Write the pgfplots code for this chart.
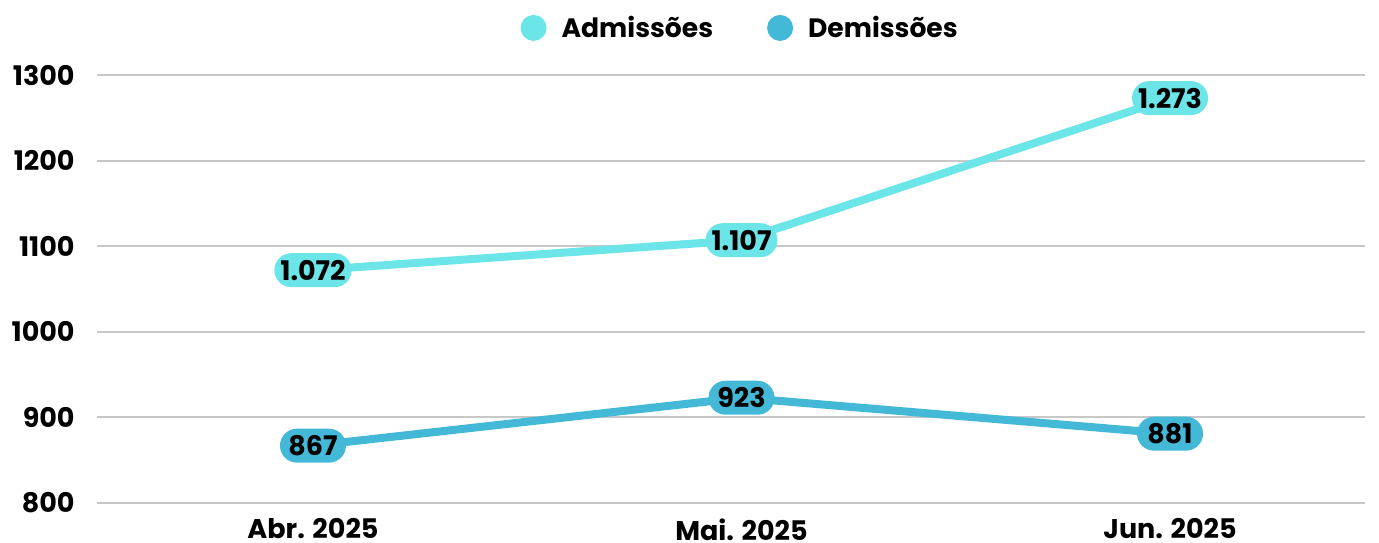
\documentclass[border=0pt]{standalone}
\usepackage{fontspec}
\setmainfont{Poppins}
\usepackage{pgfplots}
\pgfplotsset{compat=1.18}
\definecolor{adm}{HTML}{6BE5E8}
\definecolor{dem}{HTML}{43B9D7}
\definecolor{gridc}{HTML}{C8C8C8}
\begin{document}
\begin{tikzpicture}
\useasboundingbox (0pt,0pt) rectangle (689.5pt,-271pt);
\begin{axis}[
  at={(48.5pt,-251.5pt)}, anchor=south west,
  width=634pt, height=214pt, scale only axis,
  xmin=-0.504, xmax=2.455, ymin=800, ymax=1300,
  xtick={0,1,2}, xticklabels={Abr. 2025, Mai. 2025, Jun. 2025},
  ytick={800,900,1000,1100,1200,1300},
  ymajorgrids, grid style={gridc, line width=1pt},
  axis line style={draw=none}, major tick length=0pt,
  tick label style={font=\fontsize{13.5}{15}\selectfont\bfseries, inner sep=0pt},
  /pgf/number format/assume math mode=true,
  /pgf/number format/set thousands separator={},
  yticklabel style={xshift=-11pt},
  xticklabel style={yshift=-7.5pt},
  clip=false,
  legend style={draw=none, fill=none, at={(0.508,1.11)}, anchor=center,
    font=\fontsize{13.3}{15}\selectfont\bfseries,
    /tikz/every even column/.append style={column sep=25pt}},
  legend columns=2,
  legend image code/.code={\fill[#1,draw=none] (0pt,0pt) circle (6.5pt); \path (10pt,0pt);},
  point meta=explicit symbolic,
  nodes near coords={\pgfplotspointmeta},
  every node near coord/.append style={anchor=center, font=\fontsize{13.5}{15}\selectfont\bfseries,
    text=black, rounded corners=8.5pt, minimum height=17pt, minimum width=33pt, inner xsep=3pt},
]
\addplot[color=adm, line width=4pt, every node near coord/.append style={fill=adm}] table[meta=lab] {
x y lab
0 1072 1.072
1 1107 1.107
2 1273 1.273
};
\addlegendentry{Admissões}
\addplot[color=dem, line width=4pt, every node near coord/.append style={fill=dem}] table[meta=lab] {
x y lab
0 867 867
1 923 923
2 881 881
};
\addlegendentry{Demissões}
\end{axis}
\end{tikzpicture}
\end{document}
